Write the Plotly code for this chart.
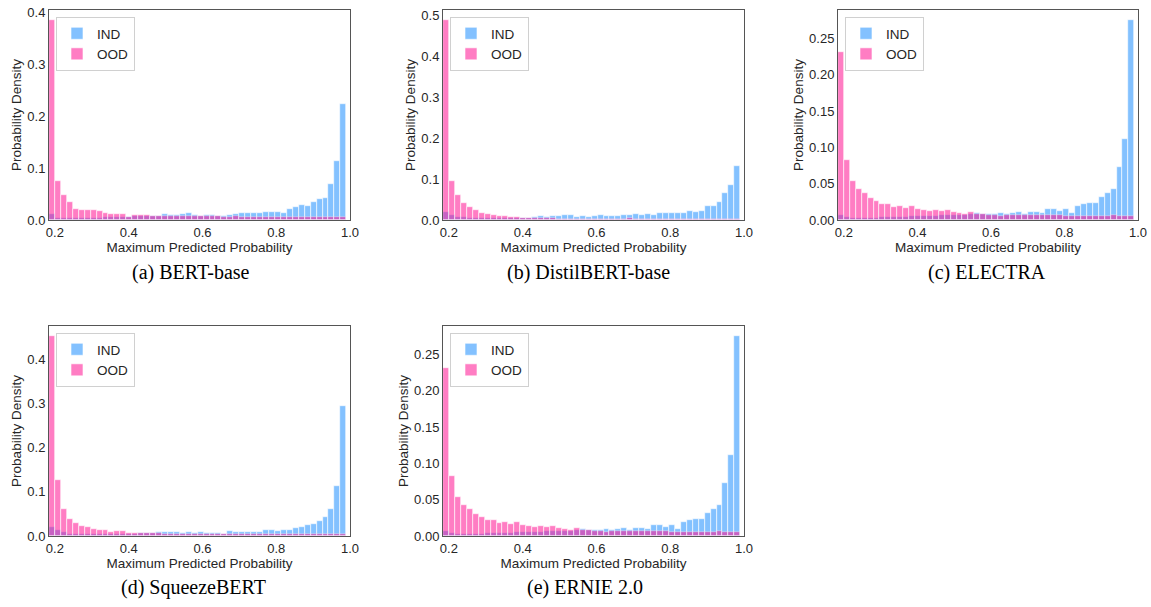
import numpy as np
import plotly.graph_objects as go

# ---------------- data ----------------
bin_start, bin_end, n_bins = 0.184, 0.99, 50

bert_ind = [0.012, 0.004, 0.003, 0.003, 0.003, 0.003, 0.004, 0.004, 0.004, 0.005,
            0.005, 0.005, 0.006, 0.006, 0.007, 0.007, 0.007, 0.008, 0.008, 0.012,
            0.010, 0.009, 0.011, 0.0135, 0.009, 0.008, 0.010, 0.009, 0.008, 0.007,
            0.009, 0.0115, 0.013, 0.0135, 0.013, 0.013, 0.016, 0.016, 0.016, 0.0137,
            0.021, 0.025, 0.029, 0.026, 0.034, 0.041, 0.042, 0.070, 0.113, 0.224]
bert_ood = [0.385, 0.076, 0.049, 0.034, 0.022, 0.020, 0.0195, 0.019, 0.017, 0.014,
            0.012, 0.011, 0.012, 0.0065, 0.0095, 0.0095, 0.009, 0.008, 0.0085, 0.008,
            0.008, 0.0075, 0.008, 0.0075, 0.007, 0.007, 0.0075, 0.007, 0.007, 0.0065,
            0.0065, 0.007, 0.0065, 0.006, 0.0065, 0.006, 0.006, 0.0055, 0.006, 0.0055,
            0.006, 0.0055, 0.0055, 0.005, 0.0055, 0.005, 0.005, 0.0055, 0.0055, 0.0055]

distil_ind = [0.020, 0.013, 0.008, 0.0066, 0.0055, 0.005, 0.005, 0.005, 0.0045, 0.005,
              0.005, 0.005, 0.0055, 0.0055, 0.006, 0.0066, 0.0098, 0.008, 0.0107, 0.0098,
              0.013, 0.0115, 0.008, 0.0107, 0.0082, 0.009, 0.0123, 0.0098, 0.0098, 0.0107,
              0.0115, 0.0115, 0.0156, 0.0115, 0.014, 0.013, 0.0164, 0.0164, 0.017, 0.018,
              0.018, 0.021, 0.019, 0.022, 0.034, 0.034, 0.045, 0.065, 0.086, 0.132]
distil_ood = [0.488, 0.096, 0.062, 0.0415, 0.031, 0.0245, 0.0175, 0.0155, 0.0125, 0.0098,
              0.0095, 0.0078, 0.0066, 0.005, 0.0045, 0.0045, 0.004, 0.004, 0.004, 0.0035,
              0.0035, 0.0035, 0.0035, 0.003, 0.0035, 0.003, 0.003, 0.003, 0.003, 0.003,
              0.003, 0.0045, 0.003, 0.0025, 0.0025, 0.0025, 0.0025, 0.0025, 0.0025, 0.002,
              0.0025, 0.002, 0.002, 0.002, 0.002, 0.002, 0.002, 0.002, 0.002, 0.002]

electra_ind = [0.0075, 0.004, 0.003, 0.003, 0.003, 0.003, 0.003, 0.0035, 0.0035, 0.004,
               0.004, 0.0045, 0.005, 0.005, 0.0055, 0.006, 0.006, 0.0065, 0.007, 0.007,
               0.0075, 0.0075, 0.008, 0.009, 0.0085, 0.008, 0.0085, 0.009, 0.0085, 0.009,
               0.0116, 0.008, 0.0116, 0.0107, 0.010, 0.0148, 0.0148, 0.0125, 0.0148, 0.0097,
               0.0195, 0.0227, 0.0236, 0.024, 0.032, 0.0366, 0.0427, 0.0728, 0.111, 0.2755]
electra_ood = [0.232, 0.083, 0.054, 0.0425, 0.0366, 0.030, 0.0264, 0.0225, 0.0225, 0.018,
               0.0198, 0.017, 0.0195, 0.0155, 0.0137, 0.0125, 0.0137, 0.0122, 0.0133, 0.011,
               0.0095, 0.0085, 0.0105, 0.0085, 0.0083, 0.0075, 0.007, 0.0062, 0.0075, 0.0075,
               0.0065, 0.0068, 0.0065, 0.0068, 0.0065, 0.0065, 0.0068, 0.0065, 0.006, 0.0055,
               0.006, 0.006, 0.0058, 0.006, 0.0055, 0.006, 0.0072, 0.0055, 0.006, 0.005]

squeeze_ind = [0.0195, 0.0135, 0.0085, 0.0055, 0.0045, 0.004, 0.004, 0.004, 0.004, 0.0045,
               0.0045, 0.005, 0.005, 0.0055, 0.0055, 0.006, 0.006, 0.0065, 0.0098, 0.0085,
               0.0085, 0.0085, 0.007, 0.0085, 0.007, 0.0085, 0.006, 0.007, 0.0075, 0.0055,
               0.0105, 0.0098, 0.0098, 0.0085, 0.0085, 0.0098, 0.0135, 0.0125, 0.012, 0.0135,
               0.0135, 0.018, 0.0205, 0.025, 0.0275, 0.0335, 0.0435, 0.062, 0.112, 0.294]
squeeze_ood = [0.452, 0.126, 0.062, 0.039, 0.030, 0.023, 0.020, 0.016, 0.013, 0.013,
               0.0095, 0.0105, 0.0105, 0.0075, 0.0075, 0.0065, 0.006, 0.006, 0.0058, 0.0055,
               0.0055, 0.005, 0.005, 0.005, 0.0045, 0.0045, 0.0045, 0.004, 0.0045, 0.004,
               0.004, 0.0045, 0.004, 0.004, 0.0035, 0.004, 0.0035, 0.0035, 0.004, 0.0035,
               0.0035, 0.0035, 0.004, 0.0035, 0.0035, 0.0035, 0.0045, 0.004, 0.0045, 0.004]

ernie_ind = [0.0075, 0.004, 0.003, 0.003, 0.003, 0.003, 0.003, 0.0035, 0.0035, 0.004,
             0.004, 0.0045, 0.005, 0.005, 0.0055, 0.006, 0.006, 0.0065, 0.007, 0.007,
             0.0075, 0.0075, 0.008, 0.009, 0.0085, 0.008, 0.0085, 0.009, 0.0085, 0.009,
             0.0116, 0.008, 0.0116, 0.0107, 0.010, 0.0148, 0.0148, 0.0125, 0.0148, 0.0097,
             0.0195, 0.0227, 0.0236, 0.024, 0.032, 0.0366, 0.0427, 0.0728, 0.111, 0.2755]
ernie_ood = [0.232, 0.083, 0.054, 0.0425, 0.0366, 0.030, 0.0264, 0.0225, 0.0225, 0.018,
             0.0198, 0.017, 0.0195, 0.0155, 0.0137, 0.0125, 0.0137, 0.0122, 0.0133, 0.011,
             0.0095, 0.0085, 0.0105, 0.0085, 0.0083, 0.0075, 0.007, 0.0062, 0.0075, 0.0075,
             0.0065, 0.0068, 0.0065, 0.0068, 0.0065, 0.0065, 0.0068, 0.0065, 0.006, 0.0055,
             0.006, 0.006, 0.0058, 0.006, 0.0055, 0.006, 0.0072, 0.0055, 0.006, 0.005]

captions = ["(a) BERT-base", "(b) DistilBERT-base", "(c) ELECTRA",
            "(d) SqueezeBERT", "(e) ERNIE 2.0"]
x_ticks = [0.2, 0.4, 0.6, 0.8, 1.0]
y_ticks = [
    [0.0, 0.1, 0.2, 0.3, 0.4],
    [0.0, 0.1, 0.2, 0.3, 0.4, 0.5],
    [0.00, 0.05, 0.10, 0.15, 0.20, 0.25],
    [0.0, 0.1, 0.2, 0.3, 0.4],
    [0.00, 0.05, 0.10, 0.15, 0.20, 0.25],
]
y_fmt = [".1f", ".1f", ".2f", ".1f", ".2f"]
series = [(bert_ind, bert_ood), (distil_ind, distil_ood), (electra_ind, electra_ood),
          (squeeze_ind, squeeze_ood), (ernie_ind, ernie_ood)]

# ---------------- layout geometry (screen pixels) ----------------
W, H = 1151, 607
cols = [(49, 350), (443, 744), (838, 1138)]
rows = [(10, 220), (326, 536)]
cells = [(0, 0), (0, 1), (0, 2), (1, 0), (1, 1)]
caption_y = [272, 587]
caption_x = [191, 588, 987, 193, 585]


def fx(px):
    return px / W


def fy(py):
    return 1 - py / H


edges = np.linspace(bin_start, bin_end, n_bins + 1)
centers = (edges[:-1] + edges[1:]) / 2
bw = edges[1] - edges[0]

BLUE = "#1E90FF"
PINK = "#FF1493"
TXT = "#262626"
FONT = "Liberation Sans, Arial, sans-serif"

fig = go.Figure()
layout = dict(width=W, height=H, margin=dict(l=0, r=0, t=0, b=0, autoexpand=False),
              paper_bgcolor="white", plot_bgcolor="white",
              barmode="overlay", bargap=0, showlegend=True, hovermode=False,
              font=dict(family=FONT, size=13, color=TXT))
annotations = []

for k, ((r, c), (ind, ood)) in enumerate(zip(cells, series)):
    n = k + 1
    xa = "x" if n == 1 else f"x{n}"
    ya = "y" if n == 1 else f"y{n}"
    lg = "legend" if n == 1 else f"legend{n}"
    x0, x1 = cols[c]
    y0, y1 = rows[r]
    fig.add_trace(go.Bar(x=centers, y=ind, width=bw, name="IND", xaxis=xa, yaxis=ya,
                         legend=lg, opacity=0.55,
                         marker=dict(color=BLUE, line=dict(color="white", width=0.6))))
    fig.add_trace(go.Bar(x=centers, y=ood, width=bw, name="OOD", xaxis=xa, yaxis=ya,
                         legend=lg, opacity=0.55,
                         marker=dict(color=PINK, line=dict(color="white", width=0.6))))
    ymax = max(max(ind), max(ood)) * 1.05
    xkey = "xaxis" if n == 1 else f"xaxis{n}"
    ykey = "yaxis" if n == 1 else f"yaxis{n}"
    layout[xkey] = dict(domain=[fx(x0), fx(x1)], anchor=ya, range=[bin_start, 1.0],
                        tickvals=x_ticks, tickformat=".1f", showgrid=False, zeroline=False,
                        showline=True, mirror=True, linecolor="#555555", linewidth=1,
                        ticks="", automargin=False, ticklabeloverflow="allow",
                        tickfont=dict(size=13, color=TXT),
                        title=dict(text="Maximum Predicted Probability", standoff=0,
                                   font=dict(size=13.5, color=TXT)))
    layout[ykey] = dict(domain=[fy(y1), fy(y0)], anchor=xa, range=[0, ymax],
                        tickvals=y_ticks[k], tickformat=y_fmt[k], showgrid=False,
                        zeroline=False, showline=True, mirror=True, linecolor="#555555",
                        linewidth=1, ticks="", automargin=False, ticklabeloverflow="allow",
                        tickfont=dict(size=13, color=TXT),
                        title=dict(text="Probability Density", standoff=2,
                                   font=dict(size=13.5, color=TXT)))
    layout[lg] = dict(x=fx(x0 + 7), y=fy(y0 + 7), xanchor="left", yanchor="top",
                      bgcolor="white", bordercolor="#d0d0d0", borderwidth=1,
                      font=dict(size=13.5, color=TXT), tracegroupgap=0, itemwidth=30)
    annotations.append(dict(text=captions[k], x=fx(caption_x[k]), y=fy(caption_y[r]),
                            xref="paper", yref="paper", xanchor="center", yanchor="middle",
                            showarrow=False,
                            font=dict(family="Liberation Serif, Times New Roman, serif",
                                      size=20, color="black")))

layout["annotations"] = annotations
fig.update_layout(**layout)
fig.write_html("out.html", config={"displayModeBar": False},
               post_script="document.body.style.margin='0px';"
                           "document.body.style.overflow='hidden';")
